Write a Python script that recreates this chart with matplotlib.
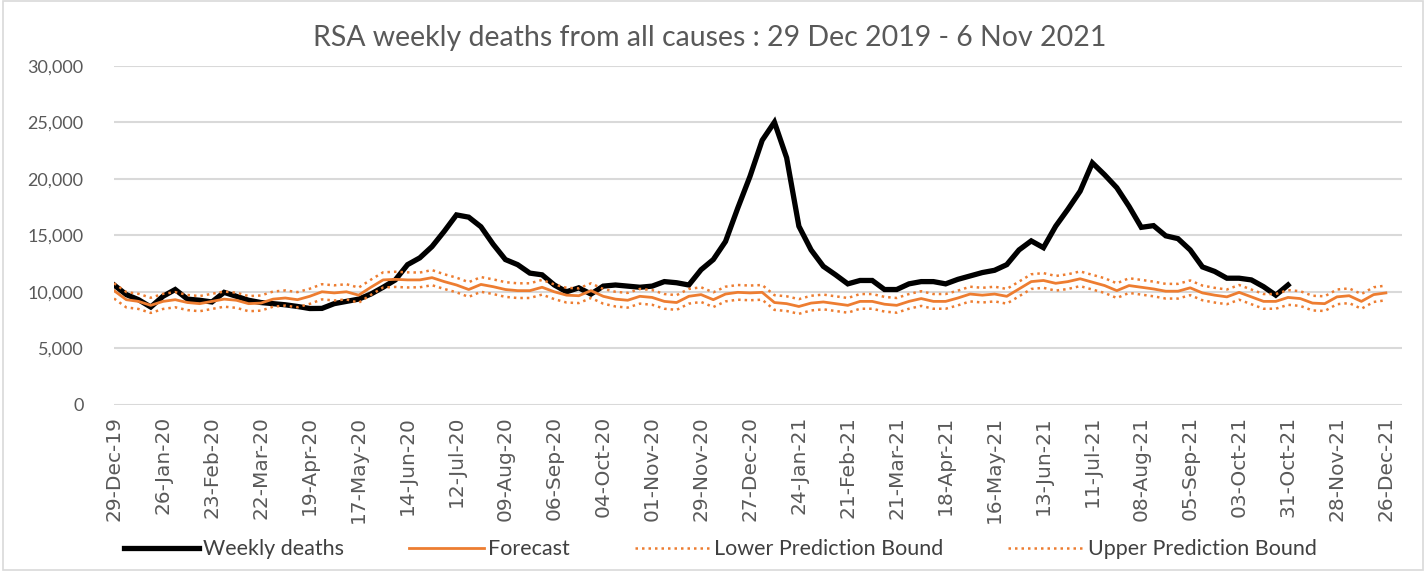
import numpy as np
import pandas as pd
import matplotlib
matplotlib.use("Agg")
import matplotlib.pyplot as plt
from matplotlib.patches import Rectangle

# weeks starting 29-Dec-2019
weeks = pd.date_range("2019-12-29", periods=105, freq="7D")

# weekly deaths from all causes (to 31-Oct-21)
weekly_deaths = [
    10600, 9750, 9300, 8650, 9600, 10200, 9350, 9250, 9100, 9950,
    9600, 9250, 9050, 8950, 8850, 8700, 8520, 8530, 8950, 9150,
    9350, 9800, 10400, 11050, 12400, 13000, 14000, 15350, 16800, 16600,
    15750, 14200, 12850, 12400, 11650, 11500, 10600, 10000, 10350, 9800,
    10500, 10600, 10500, 10400, 10500, 10900, 10800, 10600, 11950, 12850,
    14450, 17400, 20200, 23400, 25000, 21850, 15800, 13700, 12250, 11500,
    10700, 11000, 11000, 10200, 10200, 10700, 10900, 10900, 10700, 11100,
    11400, 11700, 11900, 12400, 13700, 14500, 13900, 15800, 17300, 18900,
    21400, 20350, 19200, 17550, 15700, 15850, 14950, 14700, 13700, 12200,
    11800, 11200, 11200, 11050, 10450, 9700, 10600,
]

forecast = [
    10100, 9300, 9150, 8800, 9150, 9300, 9050, 8950, 9150, 9350,
    9250, 8950, 9000, 9350, 9450, 9300, 9600, 10000, 9900, 10000,
    9700, 10400, 11050, 11100, 11050, 11050, 11250, 10900, 10600, 10200,
    10650, 10450, 10200, 10100, 10100, 10400, 10000, 9700, 9650, 10100,
    9600, 9350, 9250, 9600, 9500, 9150, 9050, 9600, 9750, 9300,
    9800, 9950, 9900, 9950, 9050, 8950, 8700, 9000, 9100, 8950,
    8800, 9150, 9150, 8900, 8800, 9150, 9400, 9150, 9150, 9450,
    9800, 9700, 9800, 9600, 10250, 10900, 11000, 10750, 10900, 11150,
    10850, 10550, 10100, 10550, 10400, 10250, 10050, 10050, 10350, 9900,
    9700, 9550, 9950, 9550, 9150, 9150, 9500, 9400, 9000, 8950,
    9550, 9650, 9150, 9750, 9900,
]

lower_bound = [
    9400, 8620, 8480, 8130, 8480, 8630, 8380, 8280, 8480, 8680,
    8580, 8280, 8330, 8680, 8780, 8630, 8930, 9330, 9230, 9330,
    9030, 9730, 10380, 10430, 10380, 10400, 10580, 10250, 9950, 9550,
    10000, 9800, 9550, 9450, 9450, 9750, 9350, 9050, 9000, 9450,
    8950, 8700, 8600, 8950, 8850, 8500, 8400, 8950, 9100, 8650,
    9150, 9300, 9250, 9300, 8400, 8300, 8050, 8350, 8450, 8300,
    8150, 8500, 8500, 8250, 8150, 8500, 8750, 8500, 8500, 8800,
    9150, 9050, 9150, 8950, 9600, 10250, 10350, 10100, 10250, 10500,
    10200, 9900, 9450, 9900, 9750, 9600, 9400, 9400, 9700, 9250,
    9050, 8900, 9300, 8900, 8500, 8500, 8850, 8750, 8350, 8300,
    8900, 9000, 8500, 9100, 9250,
]

upper_bound = [
    10750, 9980, 9820, 9470, 9820, 9970, 9720, 9620, 9820, 10020,
    9920, 9620, 9670, 10020, 10120, 9970, 10270, 10670, 10570, 10670,
    10370, 11070, 11720, 11770, 11720, 11700, 11920, 11550, 11250, 10850,
    11300, 11100, 10850, 10750, 10750, 11050, 10650, 10350, 10300, 10750,
    10250, 10000, 9900, 10250, 10150, 9800, 9700, 10250, 10400, 9950,
    10450, 10600, 10550, 10600, 9700, 9600, 9350, 9650, 9750, 9600,
    9450, 9800, 9800, 9550, 9450, 9800, 10050, 9800, 9800, 10100,
    10450, 10350, 10450, 10250, 10900, 11550, 11650, 11400, 11550, 11800,
    11500, 11200, 10750, 11200, 11050, 10900, 10700, 10700, 11000, 10550,
    10350, 10200, 10600, 10200, 9800, 9800, 10150, 10050, 9650, 9600,
    10200, 10300, 9800, 10400, 10550,
]

orange = "#ED7D31"
grey_text = "#595959"

fig = plt.figure(figsize=(14.26, 5.71), dpi=100)
ax = fig.add_axes([0.080, 0.291, 0.903, 0.594])

x_all = np.arange(len(weeks))
x_obs = np.arange(len(weekly_deaths))

ax.plot(x_all, lower_bound, color=orange, lw=1.8, linestyle=(0, (1, 1.6)),
        label="Lower Prediction Bound", zorder=3)
ax.plot(x_all, upper_bound, color=orange, lw=1.8, linestyle=(0, (1, 1.6)),
        label="Upper Prediction Bound", zorder=3)
ax.plot(x_all, forecast, color=orange, lw=2.0, label="Forecast", zorder=2)
ax.plot(x_obs, weekly_deaths, color="black", lw=3.8, label="Weekly deaths",
        solid_joinstyle="miter", zorder=1)

ax.set_ylim(0, 30000)
ax.set_yticks(np.arange(0, 30001, 5000))
ax.set_yticklabels([f"{v:,}" for v in range(0, 30001, 5000)],
                   fontsize=13, color=grey_text, family="Lato")
ax.set_xlim(0, 105.3)
tick_pos = x_all[::4]
ax.set_xticks(tick_pos)
ax.set_xticklabels([d.strftime("%d-%b-%y") for d in weeks[::4]], rotation=90,
                   fontsize=14.5, color=grey_text, family="DejaVu Sans")
ax.tick_params(axis="both", length=0, pad=8)
ax.tick_params(axis="y", pad=22)
ax.grid(axis="y", color="#d9d9d9", lw=1.5)
ax.set_axisbelow(True)
for s in ax.spines.values():
    s.set_visible(False)

fig.text(0.498, 0.933, "RSA weekly deaths from all causes : 29 Dec 2019 - 6 Nov 2021",
         ha="center", va="center", fontsize=20.5, color=grey_text, family="Lato")

handles, labels = ax.get_legend_handles_labels()
order = [3, 2, 0, 1]
leg = fig.legend([handles[i] for i in order], [labels[i] for i in order],
                 loc="center", bbox_to_anchor=(0.505, 0.038), ncol=4,
                 frameon=False, handlelength=3.5, handletextpad=0.2,
                 columnspacing=3.0, prop={"family": "Lato", "size": 15.5})
for t in leg.get_texts():
    t.set_color("#404040")

fig.patches.append(Rectangle((0.002, 0.002), 0.996, 0.996, transform=fig.transFigure,
                             fill=False, edgecolor="#d9d9d9", lw=1.2))

fig.savefig("out.png", dpi=100)
